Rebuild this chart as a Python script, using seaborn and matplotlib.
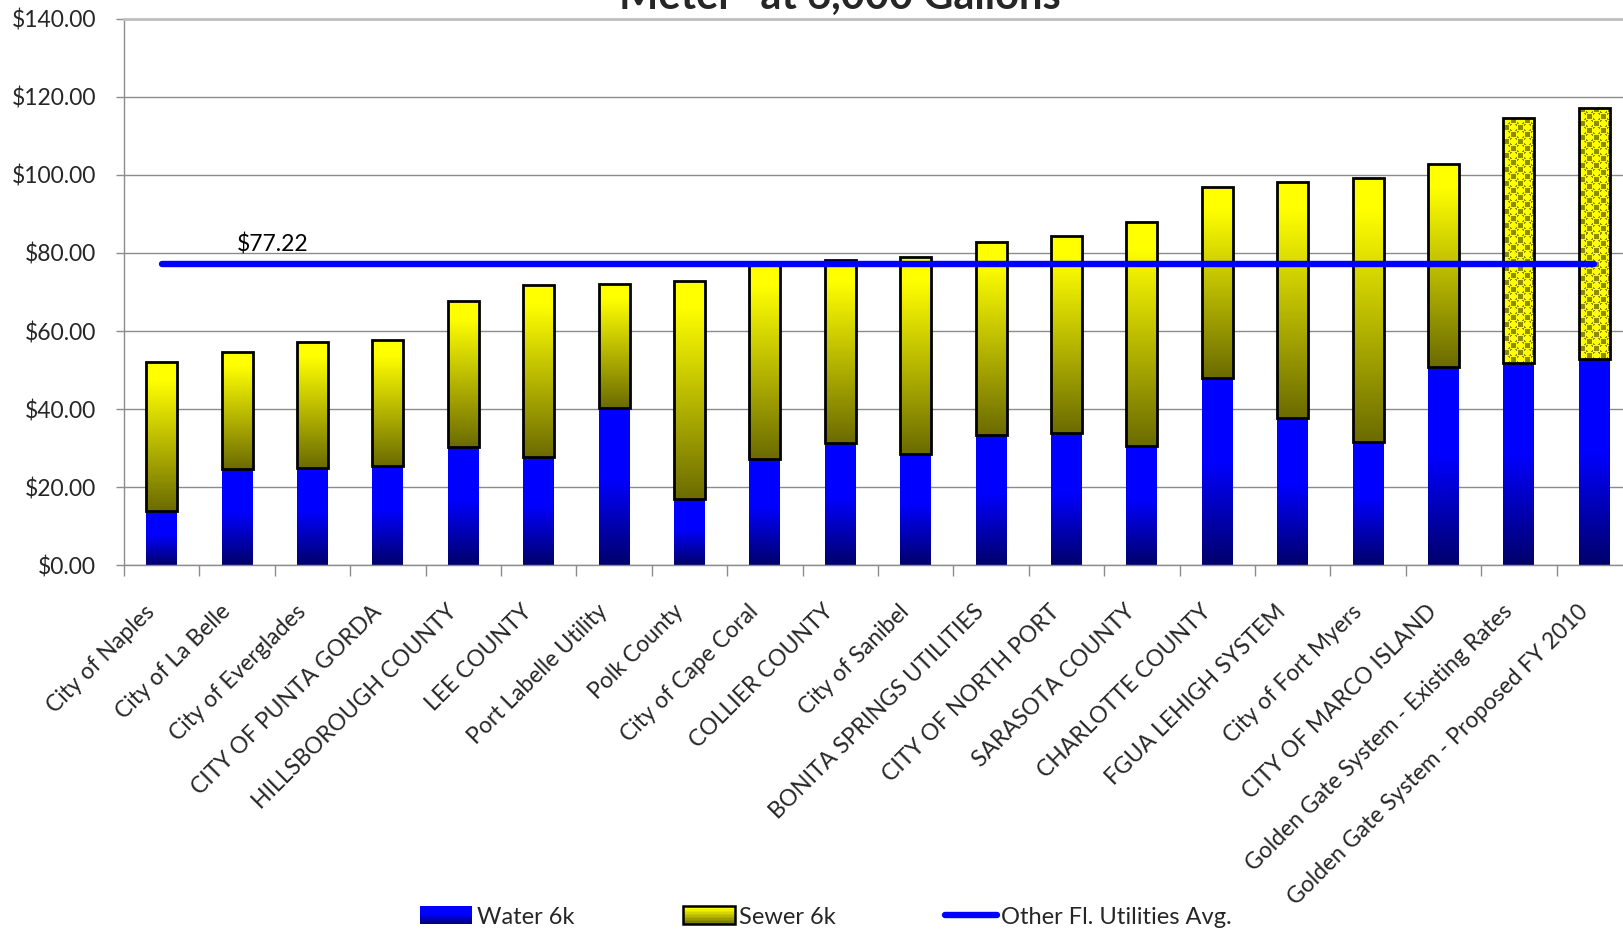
import numpy as np
import pandas as pd
import matplotlib
matplotlib.use("Agg")
import matplotlib.pyplot as plt
import matplotlib.transforms as mtransforms
from matplotlib.patches import Rectangle
from matplotlib.lines import Line2D
from matplotlib.legend_handler import HandlerBase
from matplotlib.colors import LinearSegmentedColormap
import seaborn as sns

# ---------------- data ----------------
utilities = [
    "City of Naples", "City of La Belle", "City of Everglades",
    "CITY OF PUNTA GORDA", "HILLSBOROUGH COUNTY", "LEE COUNTY",
    "Port Labelle Utility", "Polk County", "City of Cape Coral",
    "COLLIER COUNTY", "City of Sanibel", "BONITA SPRINGS UTILITIES",
    "CITY OF NORTH PORT", "SARASOTA COUNTY", "CHARLOTTE COUNTY",
    "FGUA LEHIGH SYSTEM", "City of Fort Myers", "CITY OF MARCO ISLAND",
    "Golden Gate System - Existing Rates",
    "Golden Gate System - Proposed FY 2010",
]
water_6k = [13.9, 24.6, 25.0, 25.5, 30.3, 27.7, 40.2, 16.9, 27.3, 31.4,
            28.5, 33.4, 33.8, 30.5, 47.9, 37.7, 31.7, 50.8, 51.8, 52.9]
sewer_6k = [38.1, 30.0, 32.3, 32.2, 37.4, 44.1, 31.8, 55.8, 50.2, 46.9,
            50.4, 49.5, 50.4, 57.3, 49.0, 60.5, 67.4, 52.0, 62.8, 64.3]
patterned = [False] * 18 + [True, True]
avg_value = 77.22
avg_label = "$77.22"
y_ticks = [0, 20, 40, 60, 80, 100, 120, 140]
title_text = "Meter\" at 6,000 Gallons"
legend_labels = ["Water 6k", "Sewer 6k", "Other Fl. Utilities Avg."]

df = pd.DataFrame({"utility": utilities, "water": water_6k, "sewer": sewer_6k})

# ---------------- style ----------------
sns.set_theme(style="white")
plt.rcParams["font.family"] = ["Lato", "DejaVu Sans"]

W, H, DPI = 1623, 932, 100
fig = plt.figure(figsize=(W / DPI, H / DPI), dpi=DPI)
ax = fig.add_axes([124 / W, 1 - 565.3 / H, 1508 / W, (565.3 - 18.6) / H])

blue_cmap = LinearSegmentedColormap.from_list(
    "bl", [(0.0, (0, 0, 0.42)), (0.55, (0, 0, 1.0)), (1.0, (0, 0, 1.0))])
yel_cmap = LinearSegmentedColormap.from_list(
    "yl", [(0.0, (0.42, 0.42, 0.0)), (0.88, (1.0, 1.0, 0.0)), (1.0, (1.0, 1.0, 0.0))])

BAR_W = 0.41
# water bars through seaborn
sns.barplot(data=df, x="utility", y="water", ax=ax, width=BAR_W,
            color="blue", saturation=1, linewidth=0, zorder=2)
water_patches = list(ax.patches)
# sewer stacked on top
xs = np.arange(len(df))
sewer_bars = ax.bar(xs, df["sewer"], bottom=df["water"], width=BAR_W,
                    color="yellow", edgecolor="black", linewidth=2, zorder=3)

ax.set_xlim(-0.5, len(df) - 0.5)
ax.set_ylim(0, 140)

grad = np.linspace(0, 1, 256).reshape(-1, 1)


def fill_gradient(patch, cmap, z):
    x0, y0 = patch.get_x(), patch.get_y()
    w, h = patch.get_width(), patch.get_height()
    im = ax.imshow(grad, cmap=cmap, origin="lower", aspect="auto",
                   extent=[x0, x0 + w, y0, y0 + h], zorder=z,
                   interpolation="bilinear")
    im.set_clip_path(patch)
    patch.set_facecolor("none")


def fill_texture(patch, z):
    x0, y0 = patch.get_x(), patch.get_y()
    w, h = patch.get_width(), patch.get_height()
    p0 = ax.transData.transform((x0, y0))
    p1 = ax.transData.transform((x0 + w, y0 + h))
    nx = max(int(round(p1[0] - p0[0])), 2)
    ny = max(int(round(p1[1] - p0[1])), 2)
    cell = 7
    jj, ii = np.meshgrid(np.arange(nx), np.arange(ny))
    ci, cj = ii // cell, jj // cell
    ri, rj = ii % cell - cell / 2 + 0.5, jj % cell - cell / 2 + 0.5
    circ = (ri ** 2 + rj ** 2) <= (cell / 2) ** 2
    img = np.zeros((ny, nx, 3))
    olive = np.array([0.55, 0.55, 0.0])
    yellow = np.array([1.0, 1.0, 0.0])
    img[:] = olive
    on = ((ci + cj) % 2 == 0) & circ
    img[on] = yellow
    off_small = ((ci + cj) % 2 == 1) & ((np.abs(ri) > 2.2) | (np.abs(rj) > 2.2))
    img[off_small] = yellow
    im = ax.imshow(img, origin="lower", aspect="auto",
                   extent=[x0, x0 + w, y0, y0 + h], zorder=z,
                   interpolation="nearest")
    im.set_clip_path(patch)
    patch.set_facecolor("none")


for p in water_patches:
    fill_gradient(p, blue_cmap, 1.9)
for p, pat in zip(sewer_bars, patterned):
    if pat:
        fill_texture(p, 2.9)
    else:
        fill_gradient(p, yel_cmap, 2.9)

# average line across the categories
ax.plot([xs[0], xs[-1]], [avg_value, avg_value], color="#0000FF", lw=4.6,
        solid_capstyle="round", zorder=5)
ax.text(1.47, avg_value + 2.0, avg_label, ha="center", va="bottom",
        fontsize=16.5, color="black", zorder=6)

# axes cosmetics
ax.set_yticks(y_ticks)
ax.set_yticklabels([f"${v:.2f}" for v in y_ticks], fontsize=16.5)
ax.yaxis.grid(True, color="#8C8C8C", lw=1.0, zorder=0)
ax.set_axisbelow(True)
ax.set_xlabel("")
ax.set_ylabel("")
ax.spines["right"].set_visible(False)
ax.spines["top"].set_color("#BEBEBE")
ax.spines["top"].set_linewidth(2)
ax.spines["left"].set_color("#8C8C8C")
ax.spines["bottom"].set_color("#8C8C8C")
ax.spines["left"].set_linewidth(1)
ax.spines["bottom"].set_linewidth(1)
ax.tick_params(axis="y", which="major", direction="out", length=6,
               color="#8C8C8C", width=1, left=True, pad=14)

ax.set_xticks(xs)
ax.set_xticklabels(utilities, rotation=45, ha="right", va="center",
                   rotation_mode="anchor", fontsize=16.5)
ax.set_xticks(np.arange(-0.5, len(df)), minor=True)
ax.tick_params(axis="x", which="major", length=0, pad=31)
ax.tick_params(axis="x", which="minor", direction="out", length=8,
               color="#8C8C8C", width=1, bottom=True)
offset = mtransforms.ScaledTranslation(-10 / DPI, 0, fig.dpi_scale_trans)
for lab in ax.get_xticklabels():
    lab.set_transform(lab.get_transform() + offset)

# title (cut off at top as in the reference)
fig.text(840 / W, 1 - 9 / H, title_text, ha="center", va="baseline",
         fontsize=30, fontweight="bold")


# legend with gradient swatches
class GradHandler(HandlerBase):
    def __init__(self, cmap, edge):
        super().__init__()
        self.cmap = cmap
        self.edge = edge

    def create_artists(self, legend, orig_handle, xdescent, ydescent,
                       width, height, fontsize, trans):
        arts = []
        n = 12
        for k in range(n):
            r = Rectangle((-xdescent, -ydescent + height * k / n), width,
                          height / n + 0.3, facecolor=self.cmap((k + 0.5) / n),
                          edgecolor="none", transform=trans)
            arts.append(r)
        if self.edge:
            arts.append(Rectangle((-xdescent, -ydescent), width, height,
                                  facecolor="none", edgecolor="black", lw=1.8,
                                  transform=trans))
        return arts


h_water = Rectangle((0, 0), 1, 1)
h_sewer = Rectangle((0, 0), 1, 1)
h_avg = Line2D([0], [0], color="#0000FF", lw=4.6, solid_capstyle="round")
fig.legend([h_water, h_sewer, h_avg], legend_labels,
           handler_map={h_water: GradHandler(blue_cmap, False),
                        h_sewer: GradHandler(yel_cmap, True)},
           loc="center", bbox_to_anchor=(826 / W, 1 - 917 / H), ncol=3,
           frameon=False, fontsize=17, handlelength=2.2, handleheight=0.8,
           handletextpad=0.2, columnspacing=4.6, borderaxespad=0)

fig.savefig("out.png", dpi=DPI)
